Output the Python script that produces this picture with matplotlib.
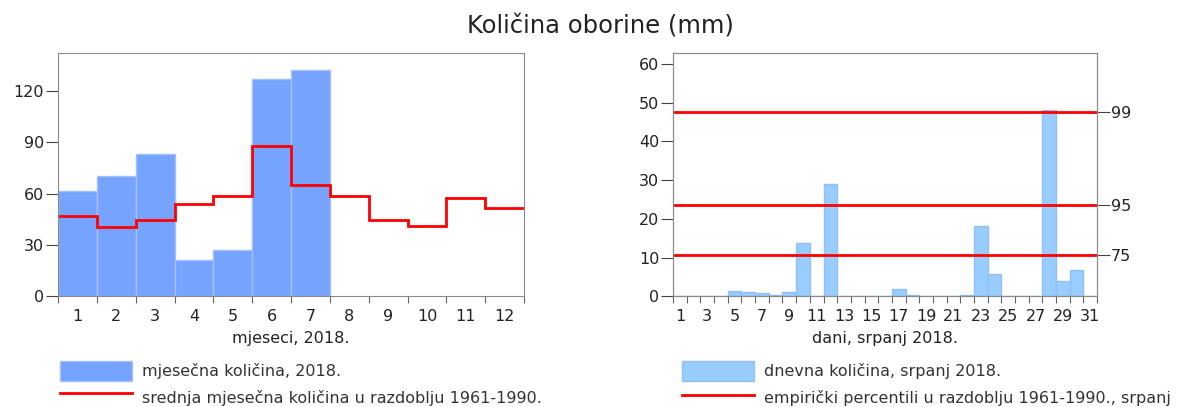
import matplotlib.pyplot as plt
import numpy as np

plt.rcParams['font.family'] = ['DejaVu Sans']

# monthly precipitation 2018 (Jan-Jul) and 1961-1990 monthly means
months = np.arange(1, 13)
monthly_2018 = [61.7, 70.3, 83.2, 21.5, 26.9, 127.0, 131.8]
monthly_mean = [46.8, 40.3, 44.9, 54.0, 58.6, 87.9, 64.8, 58.6, 44.9, 41.4, 57.3, 51.7]

# daily precipitation July 2018
days = np.arange(1, 32)
daily = [0, 0, 0, 0, 1.5, 1.1, 0.9, 0.5, 1.1, 13.7, 0, 29.1, 0, 0, 0, 0,
         1.9, 0.4, 0, 0, 0, 0.5, 18.3, 5.9, 0, 0, 0, 48.2, 4.1, 6.9, 0]
perc_names = ["75", "95", "99"]
perc_values = [10.6, 23.5, 47.5]

frame_col = "#8a8a8a"
text_col = "#222222"
fs = 11.5

fig = plt.figure(figsize=(11.94, 4.07), dpi=100)
fig.text(0.503, 0.935, "Količina oborine (mm)", ha="center", va="center",
         fontsize=17.5, color=text_col)

ax1 = fig.add_axes([0.0486, 0.2715, 0.3903, 0.5983])
ax2 = fig.add_axes([0.5637, 0.2715, 0.3551, 0.5983])

# left panel
b1 = ax1.bar(months[:len(monthly_2018)], monthly_2018, width=1.0,
             color="#75a3fe", edgecolor="#a3c1fe", linewidth=1)
st = ax1.stairs(monthly_mean, np.arange(0.5, 13.5), color="red", lw=2,
                baseline=None)
ax1.set_xlim(0.5, 12.5)
ax1.set_ylim(0, 142)
ax1.set_yticks([0, 30, 60, 90, 120])
ax1.set_xticks(np.arange(0.5, 13.5))
ax1.set_xticklabels([])
ax1.set_xticks(months, minor=True)
ax1.set_xticklabels([str(m) for m in months], minor=True)
ax1.set_xlabel("mjeseci, 2018.", fontsize=fs, color=text_col, labelpad=5)

# right panel
b2 = ax2.bar(days, daily, width=1.0, color="#99ccff", edgecolor="#8fc0f6",
             linewidth=1)
lines = [ax2.axhline(v, color="red", lw=2) for v in perc_values]
ax2.set_xlim(0.5, 31.5)
ax2.set_ylim(0, 62.8)
ax2.set_yticks([0, 10, 20, 30, 40, 50, 60])
ax2.set_xticks(np.arange(0.5, 32.5))
ax2.set_xticklabels([])
ax2.set_xticks(days[::2], minor=True)
ax2.set_xticklabels([str(d) for d in days[::2]], minor=True)
ax2.set_xlabel("dani, srpanj 2018.", fontsize=fs, color=text_col, labelpad=5)

axr = ax2.twinx()
axr.set_ylim(ax2.get_ylim())
axr.set_yticks(perc_values)
axr.set_yticklabels(perc_names)

for ax in (ax1, ax2, axr):
    for s in ax.spines.values():
        s.set_color(frame_col)
    ax.tick_params(axis="y", which="major", length=9, color="#444444",
                   labelsize=fs, labelcolor=text_col, pad=1)
    ax.tick_params(axis="x", which="major", length=5, color="#666666")
    ax.tick_params(axis="x", which="minor", length=0, labelsize=fs,
                   labelcolor=text_col, pad=9)

leg_kw = dict(loc="upper left", frameon=False, fontsize=fs, handlelength=4.5,
              handleheight=1.5, labelspacing=0.45, handletextpad=0.6,
              borderaxespad=0, labelcolor="#333333")
fig.legend(handles=[b1, st],
           labels=["mjesečna količina, 2018.",
                   "srednja mjesečna količina u razdoblju 1961-1990."],
           bbox_to_anchor=(0.045, 0.128), **leg_kw)
fig.legend(handles=[b2, lines[0]],
           labels=["dnevna količina, srpanj 2018.",
                   "empirički percentili u razdoblju 1961-1990., srpanj"],
           bbox_to_anchor=(0.566, 0.128), **leg_kw)

fig.savefig("out.png", dpi=100)
